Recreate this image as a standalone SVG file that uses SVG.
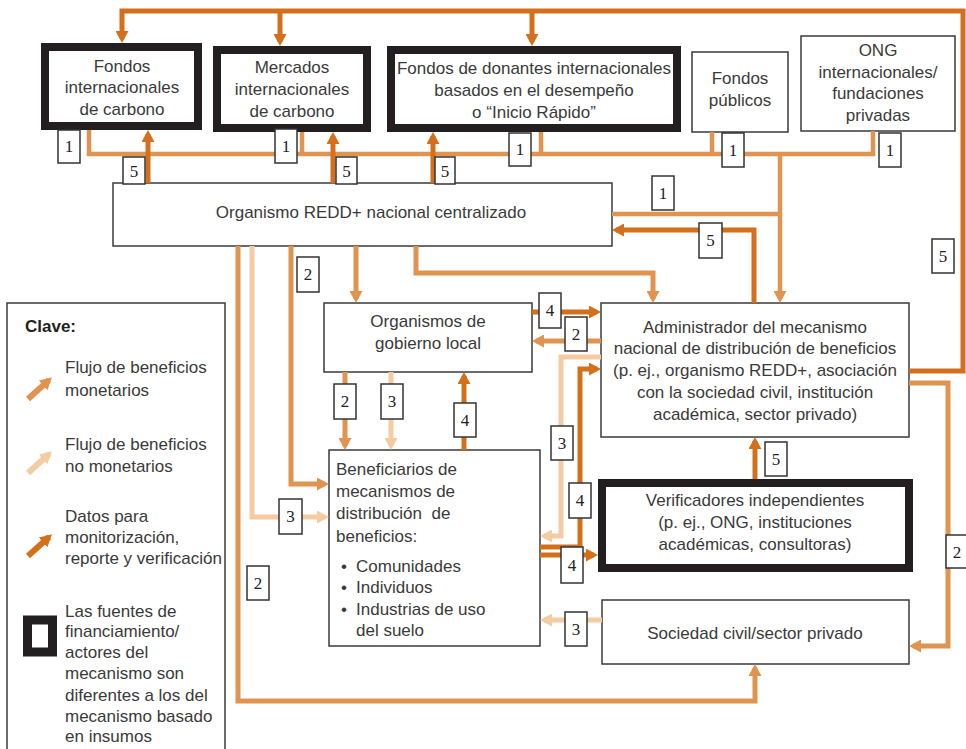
<svg xmlns="http://www.w3.org/2000/svg" width="966" height="749" viewBox="0 0 966 749">
<style>
.bx{fill:#fff;stroke:#3a3a3a;stroke-width:1.5}
.tk{fill:#fff;stroke:#231f20;stroke-width:8}
text{font-family:"Liberation Sans",Arial,sans-serif;font-size:17px;fill:#3a3a3a}
.c{text-anchor:middle}
.b{font-weight:bold;fill:#231f20}
.lb rect{fill:#fff;stroke:#333;stroke-width:1.5}
.lb text{font-family:"Liberation Serif","Times New Roman",serif;font-size:17px;text-anchor:middle;fill:#222}
.d{fill:none;stroke:#D4701C;stroke-width:5}
.m{fill:none;stroke:#E0944F;stroke-width:5}
.l{fill:none;stroke:#F5CBA3;stroke-width:5}
.d.a{marker-end:url(#ad)}
.m.a{marker-end:url(#am)}
.l.a{marker-end:url(#al)}
</style>
<defs>
<marker id="ad" viewBox="0 0 12 13" markerWidth="12" markerHeight="13" refX="8" refY="6.5" orient="auto" markerUnits="userSpaceOnUse"><path d="M0,0 L12,6.5 L0,13 z" fill="#D4701C"/></marker>
<marker id="am" viewBox="0 0 12 13" markerWidth="12" markerHeight="13" refX="8" refY="6.5" orient="auto" markerUnits="userSpaceOnUse"><path d="M0,0 L12,6.5 L0,13 z" fill="#E0944F"/></marker>
<marker id="al" viewBox="0 0 12 13" markerWidth="12" markerHeight="13" refX="8" refY="6.5" orient="auto" markerUnits="userSpaceOnUse"><path d="M0,0 L12,6.5 L0,13 z" fill="#F5CBA3"/></marker>
</defs>

<g id="nodes">
<g id="fondos-int-carbono">
<rect class="tk" x="45" y="47" width="153" height="79"/>
<text class="c" x="122" y="72">Fondos</text>
<text class="c" x="122" y="93">internacionales</text>
<text class="c" x="122" y="115">de carbono</text>
</g>
<g id="mercados-int-carbono">
<rect class="tk" x="217" y="50" width="150" height="78"/>
<text class="c" x="292" y="73">Mercados</text>
<text class="c" x="292" y="95">internacionales</text>
<text class="c" x="292" y="117">de carbono</text>
</g>
<g id="fondos-donantes">
<rect class="tk" x="391" y="50" width="286" height="78"/>
<text class="c" x="534" y="74">Fondos de donantes internacionales</text>
<text class="c" x="534" y="96">basados en el desempeño</text>
<text class="c" x="534" y="118">o “Inicio Rápido”</text>
</g>
<g id="fondos-publicos">
<rect class="bx" x="692" y="52" width="96" height="80"/>
<text class="c" x="740" y="84">Fondos</text>
<text class="c" x="740" y="106">públicos</text>
</g>
<g id="ong">
<rect class="bx" x="801" y="36" width="154" height="95"/>
<text class="c" x="878" y="56">ONG</text>
<text class="c" x="878" y="78">internacionales/</text>
<text class="c" x="878" y="99">fundaciones</text>
<text class="c" x="878" y="121">privadas</text>
</g>
<g id="organismo-redd">
<rect class="bx" x="113" y="183" width="499" height="63"/>
<text class="c" x="371" y="218">Organismo REDD+ nacional centralizado</text>
</g>
<g id="gobierno-local">
<rect class="bx" x="324" y="303" width="208" height="69"/>
<text class="c" x="428" y="327">Organismos de</text>
<text class="c" x="428" y="349">gobierno local</text>
</g>
<g id="administrador">
<rect class="bx" x="601" y="303" width="308" height="134"/>
<text class="c" x="755" y="333">Administrador del mecanismo</text>
<text class="c" x="755" y="354">nacional de distribución de beneficios</text>
<text class="c" x="755" y="376">(p. ej., organismo REDD+, asociación</text>
<text class="c" x="755" y="398">con la sociedad civil, institución</text>
<text class="c" x="755" y="420">académica, sector privado)</text>
</g>
<g id="beneficiarios">
<rect class="bx" x="329" y="450" width="211" height="196"/>
<text x="336" y="475">Beneficiarios de</text>
<text x="336" y="497">mecanismos de</text>
<text x="336" y="519" xml:space="preserve">distribución  de</text>
<text x="336" y="542">beneficios:</text>
<text x="341" y="572">•</text><text x="356" y="572">Comunidades</text>
<text x="341" y="593">•</text><text x="356" y="593">Individuos</text>
<text x="341" y="615">•</text><text x="356" y="615">Industrias de uso</text>
<text x="356" y="636">del suelo</text>
</g>
<g id="verificadores">
<rect class="tk" x="602" y="483" width="307" height="85"/>
<text class="c" x="755" y="506">Verificadores independientes</text>
<text class="c" x="755" y="528">(p. ej., ONG, instituciones</text>
<text class="c" x="755" y="550">académicas, consultoras)</text>
</g>
<g id="sociedad-civil">
<rect class="bx" x="602" y="600" width="307" height="64"/>
<text class="c" x="755" y="639">Sociedad civil/sector privado</text>
</g>
</g>

<g id="legend">
<rect class="bx" x="7" y="303" width="218" height="460"/>
<text class="b" x="25" y="332">Clave:</text>
<line class="m a" x1="28" y1="399" x2="49" y2="380" style="stroke-width:6"/>
<text x="65" y="373">Flujo de beneficios</text>
<text x="65" y="396">monetarios</text>
<line class="l a" x1="28" y1="473" x2="49" y2="454" style="stroke-width:6"/>
<text x="65" y="450">Flujo de beneficios</text>
<text x="65" y="472">no monetarios</text>
<line class="d a" x1="28" y1="556" x2="49" y2="537" style="stroke-width:6"/>
<text x="65" y="522">Datos para</text>
<text x="65" y="543">monitorización,</text>
<text x="65" y="564">reporte y verificación</text>
<rect x="27.5" y="620" width="25" height="32" fill="#fff" stroke="#231f20" stroke-width="9"/>
<text x="65" y="617">Las fuentes de</text>
<text x="65" y="637">financiamiento/</text>
<text x="65" y="658">actores del</text>
<text x="65" y="679">mecanismo son</text>
<text x="65" y="701">diferentes a los del</text>
<text x="65" y="722">mecanismo basado</text>
<text x="65" y="742">en insumos</text>
</g>

<g id="connectors">
<!-- monetary (1) -->
<path class="m" d="M89,130 V154 H873 V131" style="stroke-width:4.5"/>
<path class="m" d="M302,132 V154 M541,132 V154 M712,132 V154 M612,214 H780" style="stroke-width:4.5"/>
<path class="m a" d="M780,154 V299" style="stroke-width:4.5"/>
<!-- monetary (2) -->
<path class="m a" d="M416,246 V273 H653 V299"/>
<path class="m a" d="M356,246 V299"/>
<path class="m a" d="M291,246 V484 H325"/>
<path class="m a" d="M238,246 V701 H755 V668"/>
<path class="m a" d="M601,341 H536"/>
<path class="m a" d="M345,372 V446"/>
<path class="m a" d="M909,383 H948 V646 H913"/>
<!-- non-monetary (3) -->
<path class="l a" d="M252,246 V517 H325"/>
<path class="l a" d="M391,372 V446"/>
<path class="l a" d="M601,357 H561 V536 H544"/>
<path class="l a" d="M602,620 H544"/>
<!-- MRV data (4,5) -->
<path class="d a" d="M909,371 H963 V11 H122 V39"/>
<path class="d a" d="M280,11 V42"/>
<path class="d a" d="M532,11 V42"/>
<path class="d a" d="M148,183 V134"/>
<path class="d a" d="M333,183 V136"/>
<path class="d a" d="M433,183 V136"/>
<path class="d a" d="M754,303 V230 H616"/>
<path class="d a" d="M755,479 V441"/>
<path class="d a" d="M532,312 H597"/>
<path class="d a" d="M464,450 V376"/>
<path class="d a" d="M540,547 H580 V369 H597"/>
<path class="d a" d="M540,555 H594"/>

<g class="lb">
<rect x="58" y="130" width="22" height="33"/><text x="69" y="152">1</text>
<rect x="275" y="129" width="22" height="34"/><text x="286" y="152">1</text>
<rect x="509" y="133" width="22" height="33"/><text x="520" y="155">1</text>
<rect x="722" y="133" width="22" height="34"/><text x="733" y="156">1</text>
<rect x="879" y="133" width="22" height="34"/><text x="890" y="156">1</text>
<rect x="652" y="176" width="22" height="34"/><text x="663" y="199">1</text>
<rect x="123" y="157" width="22" height="27"/><text x="134" y="177">5</text>
<rect x="336" y="157" width="21" height="27"/><text x="346.5" y="177">5</text>
<rect x="435" y="157" width="20" height="27"/><text x="445" y="177">5</text>
<rect x="699" y="223" width="23" height="35"/><text x="710.5" y="246">5</text>
<rect x="765" y="442" width="22" height="34"/><text x="776" y="465">5</text>
<rect x="932" y="239" width="22" height="34"/><text x="943" y="262">5</text>
<rect x="297" y="257" width="22" height="35"/><text x="308" y="280">2</text>
<rect x="565" y="317" width="22" height="34"/><text x="576" y="340">2</text>
<rect x="334" y="384" width="22" height="35"/><text x="345" y="407">2</text>
<rect x="247" y="566" width="22" height="34"/><text x="258" y="589">2</text>
<rect x="946" y="535" width="22" height="33"/><text x="957" y="558">2</text>
<rect x="381" y="384" width="22" height="35"/><text x="392" y="407">3</text>
<rect x="279" y="499" width="23" height="35"/><text x="290.5" y="522">3</text>
<rect x="551" y="426" width="22" height="34"/><text x="562" y="449">3</text>
<rect x="565" y="612" width="22" height="34"/><text x="576" y="635">3</text>
<rect x="539" y="293" width="22" height="35"/><text x="550" y="316">4</text>
<rect x="454" y="403" width="22" height="34"/><text x="465" y="426">4</text>
<rect x="569" y="483" width="22" height="35"/><text x="580" y="506">4</text>
<rect x="561" y="547" width="22" height="36"/><text x="572" y="571">4</text>
</g>
</g>
</svg>
